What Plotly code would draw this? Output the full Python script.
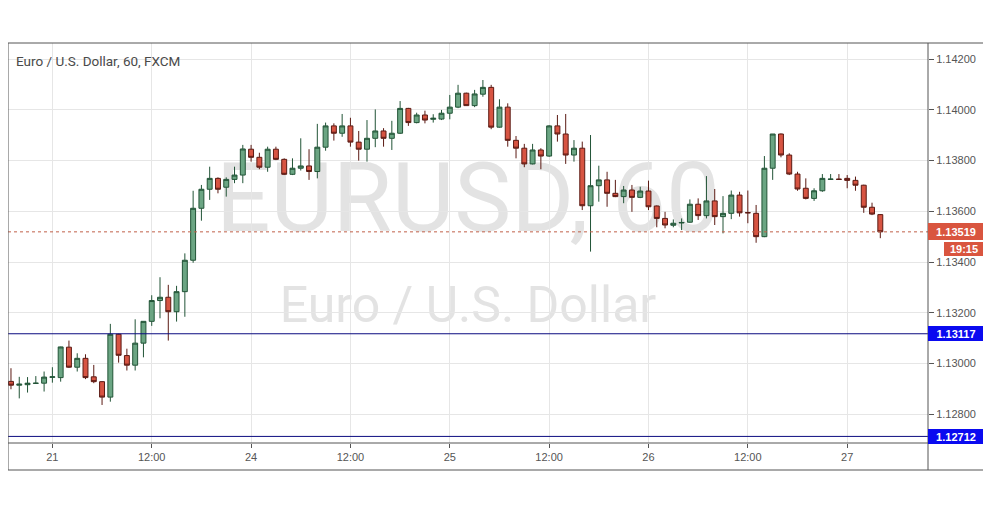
import pandas as pd
import plotly.graph_objects as go

# ---------------- data (EUR/USD, 1h, FXCM) ----------------
open_ = [
    1.12929, 1.12914, 1.12916, 1.12921, 1.12922, 1.12945, 1.12944, 1.13064, 1.12985, 1.13020,
    1.12947, 1.12928, 1.12867, 1.13115, 1.13031, 1.12993, 1.13080, 1.13166, 1.13248, 1.13261,
    1.13204, 1.13283, 1.13407, 1.13612, 1.13687, 1.13730, 1.13695, 1.13726, 1.13743, 1.13845,
    1.13813, 1.13774, 1.13845, 1.13805, 1.13746, 1.13770, 1.13779, 1.13757, 1.13853, 1.13937,
    1.13908, 1.13937, 1.13873, 1.13845, 1.13888, 1.13917, 1.13888, 1.13908, 1.14006, 1.13950,
    1.13980, 1.13963, 1.13964, 1.13987, 1.14011, 1.14066, 1.14017, 1.14062, 1.14089, 1.13932,
    1.14011, 1.13880, 1.13849, 1.13787, 1.13842, 1.13818, 1.13937, 1.13905, 1.13822, 1.13849,
    1.13622, 1.13701, 1.13724, 1.13671, 1.13658, 1.13684, 1.13655, 1.13680, 1.13621, 1.13572,
    1.13545, 1.13554, 1.13557, 1.13628, 1.13583, 1.13641, 1.13579, 1.13592, 1.13664, 1.13595,
    1.13592, 1.13500, 1.13770, 1.13905, 1.13822, 1.13747, 1.13691, 1.13651, 1.13681, 1.13726,
    1.13727, 1.13730, 1.13722, 1.13703, 1.13616, 1.13587,
]
high = [
    1.12981, 1.12947, 1.12946, 1.12950, 1.12968, 1.12985, 1.13066, 1.13090, 1.13040, 1.13036,
    1.12994, 1.12930, 1.13156, 1.13117, 1.13058, 1.13174, 1.13166, 1.13269, 1.13340, 1.13310,
    1.13306, 1.13434, 1.13681, 1.13704, 1.13776, 1.13734, 1.13734, 1.13776, 1.13862, 1.13862,
    1.13831, 1.13855, 1.13855, 1.13809, 1.13809, 1.13888, 1.13845, 1.13945, 1.13950, 1.13947,
    1.13984, 1.13969, 1.13917, 1.13960, 1.14002, 1.13928, 1.13957, 1.14035, 1.14008, 1.13989,
    1.13997, 1.13983, 1.14000, 1.14059, 1.14099, 1.14068, 1.14079, 1.14118, 1.14099, 1.14042,
    1.14026, 1.13897, 1.13866, 1.13866, 1.13849, 1.13940, 1.13980, 1.13984, 1.13881, 1.13875,
    1.13901, 1.13780, 1.13756, 1.13724, 1.13700, 1.13704, 1.13697, 1.13721, 1.13623, 1.13598,
    1.13568, 1.13572, 1.13647, 1.13651, 1.13739, 1.13688, 1.13660, 1.13682, 1.13677, 1.13682,
    1.13625, 1.13818, 1.13905, 1.13907, 1.13829, 1.13756, 1.13730, 1.13691, 1.13747, 1.13747,
    1.13747, 1.13743, 1.13737, 1.13705, 1.13634, 1.13589,
]
low = [
    1.12898, 1.12862, 1.12885, 1.12919, 1.12889, 1.12924, 1.12928, 1.12982, 1.12968, 1.12938,
    1.12922, 1.12836, 1.12849, 1.13003, 1.12972, 1.12972, 1.13024, 1.13148, 1.13178, 1.13090,
    1.13165, 1.13184, 1.13397, 1.13563, 1.13645, 1.13671, 1.13658, 1.13711, 1.13711, 1.13796,
    1.13766, 1.13756, 1.13802, 1.13743, 1.13743, 1.13761, 1.13724, 1.13730, 1.13839, 1.13879,
    1.13894, 1.13855, 1.13800, 1.13796, 1.13853, 1.13855, 1.13842, 1.13905, 1.13937, 1.13947,
    1.13947, 1.13950, 1.13960, 1.13963, 1.14007, 1.14016, 1.14011, 1.14052, 1.13924, 1.13930,
    1.13855, 1.13809, 1.13774, 1.13785, 1.13766, 1.13815, 1.13875, 1.13787, 1.13796, 1.13605,
    1.13441, 1.13638, 1.13618, 1.13656, 1.13632, 1.13598, 1.13652, 1.13605, 1.13537, 1.13533,
    1.13537, 1.13526, 1.13555, 1.13566, 1.13572, 1.13546, 1.13513, 1.13569, 1.13579, 1.13553,
    1.13476, 1.13498, 1.13724, 1.13813, 1.13743, 1.13681, 1.13647, 1.13641, 1.13677, 1.13724,
    1.13724, 1.13691, 1.13681, 1.13594, 1.13585, 1.13494,
]
close = [
    1.12914, 1.12918, 1.12922, 1.12922, 1.12946, 1.12947, 1.13065, 1.12985, 1.13020, 1.12944,
    1.12928, 1.12867, 1.13115, 1.13032, 1.12993, 1.13080, 1.13166, 1.13248, 1.13261, 1.13204,
    1.13283, 1.13407, 1.13612, 1.13687, 1.13730, 1.13687, 1.13726, 1.13743, 1.13846, 1.13813,
    1.13774, 1.13845, 1.13805, 1.13746, 1.13770, 1.13779, 1.13757, 1.13853, 1.13937, 1.13908,
    1.13937, 1.13873, 1.13845, 1.13888, 1.13917, 1.13888, 1.13908, 1.14006, 1.13950, 1.13980,
    1.13960, 1.13967, 1.13987, 1.14011, 1.14066, 1.14017, 1.14063, 1.14089, 1.13932, 1.14011,
    1.13880, 1.13849, 1.13787, 1.13842, 1.13818, 1.13937, 1.13905, 1.13822, 1.13849, 1.13622,
    1.13701, 1.13724, 1.13671, 1.13658, 1.13684, 1.13655, 1.13680, 1.13618, 1.13572, 1.13546,
    1.13553, 1.13556, 1.13628, 1.13583, 1.13641, 1.13579, 1.13592, 1.13664, 1.13594, 1.13594,
    1.13500, 1.13770, 1.13905, 1.13822, 1.13747, 1.13688, 1.13651, 1.13681, 1.13730, 1.13727,
    1.13726, 1.13722, 1.13703, 1.13616, 1.13589, 1.13519,
]

level_prices = [1.13117, 1.12712]
price_ticks = [1.128, 1.130, 1.132, 1.134, 1.136, 1.138, 1.140, 1.142]
countdown_text = "19:15"
title_text = "Euro / U.S. Dollar, 60, FXCM"
watermark_symbol = "EURUSD, 60"
watermark_name = "Euro / U.S. Dollar"

# hourly bars, forex market closed Fri 22:00 -> Sun 22:00 (bars are index-spaced)
bar_times = pd.date_range("2018-12-20 19:00", "2018-12-27 04:00", freq="h")
wd, hr = bar_times.dayofweek, bar_times.hour
bar_times = bar_times[~(((wd == 4) & (hr >= 22)) | (wd == 5) | ((wd == 6) & (hr < 22)))]
x_idx = list(range(len(bar_times)))
tick_idx = [i for i, t in enumerate(bar_times) if t.hour in (0, 12)]
tick_txt = [str(t.day) if t.hour == 0 else "12:00" for t in bar_times if t.hour in (0, 12)]

last_price = close[-1]

fig = go.Figure()
fig.add_trace(go.Candlestick(
    x=x_idx, open=open_, high=high, low=low, close=close,
    increasing=dict(fillcolor="#6ba583", line=dict(color="#225437", width=1)),
    decreasing=dict(fillcolor="#d75442", line=dict(color="#5b1a13", width=1)),
    whiskerwidth=0, hoverinfo="skip", showlegend=False,
))

grid = "#e6e6e6"
axis_font = dict(family="Liberation Sans, Arial, sans-serif", size=11, color="#555555")
frame = "#555555"

shapes = []
# watermark (below candles)
shapes.append(dict(type="rect", xref="paper", yref="paper", x0=0.2, x1=0.8, y0=0.57, y1=0.69,
                   layer="below", line=dict(width=0), fillcolor="rgba(0,0,0,0)",
                   label=dict(text=watermark_symbol, textposition="middle center",
                              font=dict(family="Roboto, sans-serif", size=96, color="#e3e3e3"))))
shapes.append(dict(type="rect", xref="paper", yref="paper", x0=0.2, x1=0.8, y0=0.31, y1=0.40,
                   layer="below", line=dict(width=0), fillcolor="rgba(0,0,0,0)",
                   label=dict(text=watermark_name, textposition="middle center",
                              font=dict(family="Roboto, sans-serif", size=50, color="#e3e3e3"))))
# level lines
for lp in level_prices:
    shapes.append(dict(type="line", xref="paper", yref="y", x0=0, x1=1, y0=lp, y1=lp,
                       line=dict(color="#0b0b80", width=1)))
# last price dotted line
shapes.append(dict(type="line", xref="paper", yref="y", x0=0, x1=1, y0=last_price, y1=last_price,
                   line=dict(color="#c0604a", width=1, dash="dot")))
# chart frame
shapes.append(dict(type="rect", xref="paper", yref="paper", x0=0, x1=1.061, y0=-0.0675, y1=1,
                   line=dict(color=frame, width=1), layer="above"))
shapes.append(dict(type="line", xref="paper", yref="paper", x0=1, x1=1, y0=-0.0675, y1=1,
                   line=dict(color=frame, width=1)))
shapes.append(dict(type="line", xref="paper", yref="paper", x0=0, x1=1.061, y0=0, y1=0,
                   line=dict(color=frame, width=1)))

label_font = dict(family="Liberation Sans, Arial, sans-serif", size=11, color="white")
annotations = [
    dict(text=title_text, xref="paper", yref="paper", x=0.0065, y=0.955, xanchor="left",
         yanchor="middle", showarrow=False,
         font=dict(family="Roboto, sans-serif", size=13.5, color="#4a4a4a")),
    dict(text="<b>%.5f</b>" % last_price, xref="paper", yref="y", x=1, y=last_price,
         xanchor="left", yanchor="middle", showarrow=False, bgcolor="#d9553f",
         width=52, height=13, borderpad=2, borderwidth=0, font=label_font),
    dict(text="<b>%s</b>" % countdown_text, xref="paper", yref="y", x=1, y=last_price,
         xanchor="left", yanchor="middle", xshift=16, yshift=-17.5, showarrow=False,
         bgcolor="#d9553f", width=36, height=10, borderpad=2, borderwidth=0, font=label_font),
]
for lp in level_prices:
    annotations.append(dict(text="<b>%.5f</b>" % lp, xref="paper", yref="y", x=1, y=lp,
                            xanchor="left", yanchor="middle", showarrow=False, bgcolor="#0a0af0",
                            width=52, height=11, borderpad=2, borderwidth=0, font=label_font))

# the page body has an 8px margin, so the figure is sized to fit the 991x507 window
fig.update_layout(
    width=983, height=499, autosize=False,
    margin=dict(l=0, r=63, t=35, b=64),
    paper_bgcolor="white", plot_bgcolor="white",
    boxgap=0.3, boxgroupgap=0.15,
    shapes=shapes, annotations=annotations,
    hovermode=False,
    xaxis=dict(range=[-0.36, 110.76], tickmode="array", tickvals=tick_idx, ticktext=tick_txt,
               showgrid=True, gridcolor=grid, gridwidth=1, zeroline=False, showline=False,
               ticks="outside", ticklen=4, tickcolor="#555555", tickfont=axis_font,
               rangeslider=dict(visible=False), fixedrange=True),
    yaxis=dict(side="right", range=[1.12686, 1.14264], tickmode="array", tickvals=price_ticks,
               tickformat=".5f", showgrid=True, gridcolor=grid, gridwidth=1, zeroline=False,
               showline=False, ticks="outside", ticklen=5, tickcolor="#555555",
               tickfont=axis_font, fixedrange=True),
)

fig.write_html("out.html")
